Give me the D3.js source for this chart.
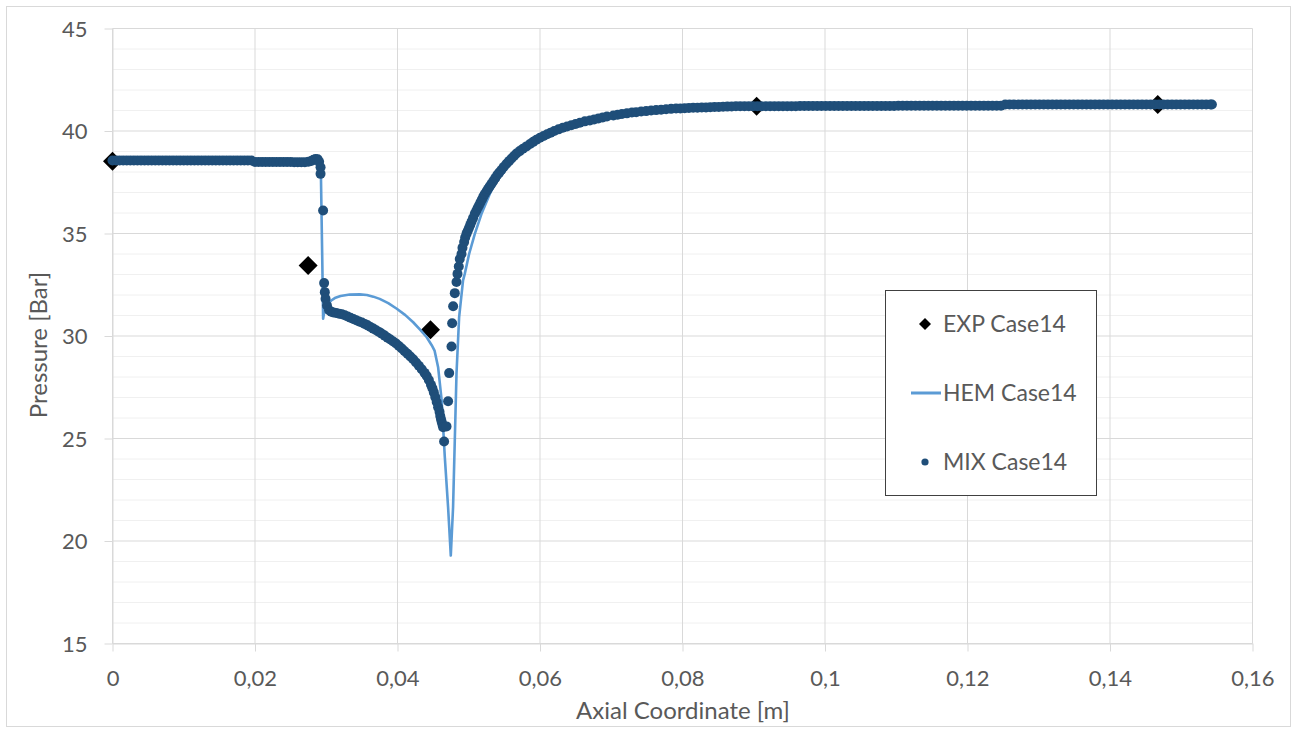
<!DOCTYPE html>
<html><head><meta charset="utf-8">
<script src="https://cdn.jsdelivr.net/npm/d3@7"></script>
<style>
html,body{margin:0;padding:0;background:#fff;}
svg{display:block;font-family:Lato,"Open Sans",sans-serif;}
</style></head>
<body><svg id="c" width="1297" height="729"></svg>
<script>
// ---------- data ----------
const xTicks=[0,0.02,0.04,0.06,0.08,0.1,0.12,0.14,0.16];
const xTickLabels=["0","0,02","0,04","0,06","0,08","0,1","0,12","0,14","0,16"];
const yTicks=[15,20,25,30,35,40,45];
const yTickLabels=["15","20","25","30","35","40","45"];
const yMinorTicks=[16,17,18,19,21,22,23,24,26,27,28,29,31,32,33,34,36,37,38,39,41,42,43,44];
const seriesNames=["EXP Case14","HEM Case14","MIX Case14"];

const expData=[[0,38.53],[0.02746,33.44],[0.04463,30.30],[0.0904,41.21],[0.1467,41.29]];

const hemData=[[0,38.56],[0.0195,38.56],[0.02,38.49],[0.0284,38.5],[0.0291,38.45],[0.02925,37.9],[0.02945,33.5],[0.02956,30.84],
[0.0298,31.35],[0.0303,31.6],[0.0307,31.73],[0.0312,31.85],[0.0320,31.95],[0.0333,32.02],[0.0347,32.03],[0.0357,32.0],[0.0366,31.92],[0.0375,31.81],
[0.0387,31.6],[0.0399,31.33],[0.0411,31.02],[0.0422,30.67],[0.0432,30.3],[0.0441,29.94],[0.0448,29.55],[0.0452,29.29],[0.0457,28.48],
[0.0462,26.85],[0.04664,24.09],[0.0471,21.65],[0.04748,19.29],[0.0478,21.65],[0.04804,24.9],[0.04828,28.16],[0.04865,30.92],[0.0492,32.71],
[0.04944,33.03],[0.05005,34.0],[0.05085,34.98],[0.05179,35.96],[0.05295,36.93],[0.0540,37.7],[0.0553,38.3],[0.0567,38.86],[0.0600,39.65],
[0.0632,40.14],[0.0670,40.5],[0.0735,40.9],[0.0801,41.1],[0.0871,41.2],[0.1,41.22],[0.125,41.24],[0.1255,41.29],[0.1543,41.29]];

const mixFlat=[[0,38.56],[0.0005,38.56],[0.001,38.56],[0.0015,38.56],[0.002,38.56],[0.0025,38.56],[0.003,38.56],[0.0035,38.56],[0.004,38.56],[0.0045,38.56],
[0.005,38.56],[0.0055,38.56],[0.006,38.56],[0.0065,38.56],[0.007,38.56],[0.0075,38.56],[0.008,38.56],[0.0085,38.56],[0.009,38.56],[0.0095,38.56],
[0.01,38.56],[0.0105,38.56],[0.011,38.56],[0.0115,38.56],[0.012,38.56],[0.0125,38.56],[0.013,38.56],[0.0135,38.56],[0.014,38.56],[0.0145,38.56],
[0.015,38.56],[0.0155,38.56],[0.016,38.56],[0.0165,38.56],[0.017,38.56],[0.0175,38.56],[0.018,38.56],[0.0185,38.56],[0.019,38.56],[0.0195,38.56],
[0.02,38.49],[0.0205,38.49],[0.021,38.49],[0.0215,38.49],[0.022,38.49],[0.0225,38.49],[0.023,38.49],[0.0235,38.49],[0.024,38.49],[0.0245,38.49],
[0.025,38.49],[0.0255,38.48],[0.026,38.48],[0.0265,38.48],[0.027,38.48],[0.0275,38.5]];

const mixDrop=[[0.0279,38.54],[0.0282,38.6],[0.0285,38.63],[0.0288,38.62],[0.029,38.5],[0.0292,38.23],[0.0292,37.91],[0.02956,36.12],
[0.0297,32.58],[0.0298,32.14],[0.0299,31.82],[0.0301,31.49],[0.0304,31.26],[0.0307,31.18]];

const mixCurve=[[0.031,31.15],[0.0314,31.12],[0.0318,31.09],[0.0322,31.06],[0.0326,31.01],[0.033,30.95],[0.0334,30.89],[0.0338,30.83],
[0.0342,30.77],[0.0346,30.71],[0.035,30.66],[0.0354,30.59],[0.0358,30.52],[0.0362,30.44],[0.0366,30.36],[0.037,30.28],[0.0374,30.2],
[0.0378,30.11],[0.0382,30.02],[0.0386,29.92],[0.039,29.83],[0.0394,29.73],[0.0398,29.63],[0.0402,29.51],[0.0406,29.39],[0.041,29.26],
[0.0414,29.13],[0.0418,29.0],[0.0422,28.87],[0.0426,28.71],[0.043,28.55],[0.0434,28.38],[0.0438,28.2],[0.0441,28.05],[0.0444,27.85],
[0.0447,27.62],[0.0449,27.45],[0.0451,27.25],[0.0453,27.02],[0.0455,26.78],[0.0457,26.53],[0.0459,26.3],[0.046,26.1],[0.0461,25.95],
[0.0462,25.82],[0.0463,25.68],[0.0464,25.55],[0.04654,24.85],[0.04688,25.59]];

const mixRise=[[0.0471,26.82],[0.04725,28.19],[0.04758,29.49],[0.04767,30.62],[0.04781,31.45],[0.04804,32.09],[0.04828,32.63],[0.04842,33.03],
[0.0486,33.39],[0.04874,33.76],[0.04898,34.0],[0.04912,34.3],[0.04935,34.58],[0.0495,34.8],[0.04968,34.98],[0.04985,35.12],[0.05003,35.27],
[0.05021,35.42],[0.0504,35.58],[0.0506,35.75],[0.05085,35.96],[0.05105,36.1],[0.05125,36.24],[0.05145,36.38],[0.05165,36.52],[0.05185,36.66],
[0.05205,36.8],[0.05225,36.93],[0.0525,37.06],[0.05272,37.18],[0.05295,37.3],[0.0532,37.43],[0.05345,37.56],[0.05372,37.7],[0.054,37.85],
[0.05428,37.97],[0.05458,38.1],[0.0549,38.24],[0.0553,38.4],[0.05565,38.53],[0.056,38.66],[0.05635,38.78],[0.0567,38.9],[0.05715,39.02],
[0.0576,39.13],[0.0581,39.25],[0.0586,39.37],[0.05905,39.47],[0.0595,39.57],[0.06,39.67],[0.0605,39.76],[0.061,39.84],[0.0615,39.92],
[0.062,40.0],[0.0626,40.08],[0.0632,40.16],[0.0638,40.22],[0.0644,40.28],[0.065,40.34],[0.0656,40.4],[0.0663,40.47],[0.067,40.51],
[0.0676,40.56],[0.0682,40.61],[0.0688,40.66],[0.0694,40.71],[0.0703,40.76],[0.0709,40.79],[0.0715,40.83],[0.0722,40.86],[0.0729,40.9],
[0.0735,40.92],[0.0742,40.95],[0.0749,40.97],[0.0756,41.0],[0.0763,41.02],[0.077,41.04],[0.0777,41.06],[0.0784,41.08],[0.0791,41.1]];

const mixTail=[[0.0797,41.1],[0.0803,41.11],[0.0809,41.12],[0.0815,41.13],[0.0821,41.14],[0.0827,41.15],[0.0833,41.15],[0.0839,41.16],
[0.0845,41.17],[0.0851,41.17],[0.0857,41.18],[0.0863,41.19],[0.0869,41.2],[0.0875,41.21],[0.0881,41.21],[0.0887,41.21],[0.0893,41.21],
[0.0899,41.21],[0.0905,41.21],[0.0911,41.21],[0.0917,41.21],[0.0923,41.21],[0.0929,41.21],[0.0935,41.21],[0.0941,41.21],[0.0947,41.21],
[0.0953,41.21],[0.0959,41.21],[0.0965,41.22],[0.0971,41.22],[0.0977,41.22],[0.0983,41.22],[0.0989,41.22],[0.0995,41.22],[0.1001,41.22],
[0.1007,41.22],[0.1013,41.22],[0.1019,41.22],[0.1025,41.22],[0.1031,41.22],[0.1037,41.22],[0.1043,41.22],[0.1049,41.22],[0.1055,41.22],
[0.1061,41.22],[0.1067,41.22],[0.1073,41.22],[0.1079,41.22],[0.1085,41.22],[0.1091,41.22],[0.1097,41.22],[0.1103,41.23],[0.1109,41.23],
[0.1115,41.23],[0.1121,41.23],[0.1127,41.23],[0.1133,41.23],[0.1139,41.23],[0.1145,41.23],[0.1151,41.23],[0.1157,41.23],[0.1163,41.23],
[0.1169,41.23],[0.1175,41.23],[0.1181,41.23],[0.1187,41.23],[0.1193,41.23],[0.1199,41.23],[0.1205,41.23],[0.1211,41.23],[0.1217,41.23],
[0.1223,41.23],[0.1229,41.23],[0.1235,41.23],[0.1241,41.23],[0.1247,41.23],[0.1253,41.29],[0.1259,41.29],[0.1265,41.29],[0.1271,41.29],
[0.1277,41.29],[0.1283,41.29],[0.1289,41.29],[0.1295,41.29],[0.1301,41.29],[0.1307,41.29],[0.1313,41.29],[0.1319,41.29],[0.1325,41.29],
[0.1331,41.29],[0.1337,41.29],[0.1343,41.29],[0.1349,41.29],[0.1355,41.29],[0.1361,41.29],[0.1367,41.29],[0.1373,41.29],[0.1379,41.29],
[0.1385,41.29],[0.1391,41.29],[0.1397,41.29],[0.1403,41.29],[0.1409,41.29],[0.1415,41.29],[0.1421,41.29],[0.1427,41.29],[0.1433,41.29],
[0.1439,41.29],[0.1445,41.29],[0.1451,41.29],[0.1457,41.29],[0.1463,41.29],[0.1469,41.29],[0.1475,41.29],[0.1481,41.29],[0.1487,41.29],
[0.1493,41.29],[0.1499,41.29],[0.1505,41.29],[0.1511,41.29],[0.1517,41.29],[0.1523,41.29],[0.1529,41.29],[0.1535,41.29],[0.1541,41.29],[0.1543,41.29]];

// ---------- drawing ----------
const svg=d3.select("#c");
const x=d3.scaleLinear().domain([0,0.16]).range([112.5,1252.5]);
const y=d3.scaleLinear().domain([15,45]).range([643.5,28.5]);
const textCol="#595959", gridMajor="#d9d9d9", gridMinor="#f0f0f0";
const cExp="#000000", cHem="#5b9bd5", cMix="#1f4e79";

svg.append("rect").attr("x",6.5).attr("y",6.5).attr("width",1284).attr("height",720)
  .attr("fill","#fff").attr("stroke","#d9d9d9").attr("stroke-width",1);

// minor gridlines
svg.append("g").selectAll("line").data(yMinorTicks).join("line")
  .attr("x1",x(0)).attr("x2",x(0.16)).attr("y1",d=>y(d)).attr("y2",d=>y(d))
  .attr("stroke",gridMinor).attr("stroke-width",1);
// major gridlines
svg.append("g").selectAll("line").data(yTicks).join("line")
  .attr("x1",x(0)).attr("x2",x(0.16)).attr("y1",d=>y(d)).attr("y2",d=>y(d))
  .attr("stroke",gridMajor).attr("stroke-width",1);
svg.append("g").selectAll("line").data(xTicks).join("line")
  .attr("x1",d=>x(d)).attr("x2",d=>x(d)).attr("y1",y(15)).attr("y2",y(45))
  .attr("stroke",gridMajor).attr("stroke-width",1);

// axes
const xAxis=svg.append("g").attr("transform",`translate(0,${y(15)})`)
  .call(d3.axisBottom(x).tickValues(xTicks).tickFormat((d,i)=>xTickLabels[i]).tickSize(8).tickSizeOuter(0).tickPadding(20));
const yAxis=svg.append("g").attr("transform",`translate(${x(0)},0)`)
  .call(d3.axisLeft(y).tickValues(yTicks).tickFormat((d,i)=>yTickLabels[i]).tickSize(8).tickSizeOuter(0).tickPadding(17));
[xAxis,yAxis].forEach(a=>{
  a.select(".domain").attr("stroke",gridMajor);
  a.selectAll(".tick line").attr("stroke",gridMajor);
  a.selectAll(".tick text").attr("fill",textCol).attr("font-size",22).attr("font-family","Lato");
});
xAxis.selectAll(".tick text").attr("dy",0).attr("y",42);
yAxis.selectAll(".tick text").attr("dy","0.36em");

// axis titles
svg.append("text").attr("x",683).attr("y",719).attr("text-anchor","middle")
  .attr("fill",textCol).attr("font-size",24).text("Axial Coordinate [m]");
svg.append("text").attr("transform","translate(47,345) rotate(-90)").attr("text-anchor","middle")
  .attr("fill",textCol).attr("font-size",24).text("Pressure [Bar]");

// clip
svg.append("clipPath").attr("id","pa").append("rect").attr("x",6).attr("y",6).attr("width",1285).attr("height",720);
const plot=svg.append("g").attr("clip-path","url(#pa)");

const diamond=(cx,cy,r)=>`M${cx},${cy-r}L${cx+r},${cy}L${cx},${cy+r}L${cx-r},${cy}Z`;

// EXP
plot.append("g").selectAll("path").data(expData).join("path")
  .attr("d",d=>diamond(x(d[0]),y(d[1]),9.5)).attr("fill",cExp);

// HEM
plot.append("path").datum(hemData)
  .attr("d",d3.line().x(d=>x(d[0])).y(d=>y(d[1])).curve(d3.curveLinear))
  .attr("fill","none").attr("stroke",cHem).attr("stroke-width",2.6).attr("stroke-linejoin","round");

// MIX
const mixAll=[].concat(mixFlat,mixDrop,mixCurve,mixRise,mixTail);
plot.append("g").selectAll("circle").data(mixAll).join("circle")
  .attr("cx",d=>x(d[0])).attr("cy",d=>y(d[1])).attr("r",5).attr("fill",cMix);

// legend
const lg=svg.append("g");
lg.append("rect").attr("x",885.5).attr("y",290.5).attr("width",211).attr("height",205)
  .attr("fill","#fff").attr("stroke","#404040").attr("stroke-width",1);
const lx=925, ly=[324,393,462];
lg.append("path").attr("d",diamond(lx,ly[0],6)).attr("fill",cExp);
lg.append("line").attr("x1",911).attr("x2",941).attr("y1",ly[1]).attr("y2",ly[1]).attr("stroke",cHem).attr("stroke-width",3);
lg.append("circle").attr("cx",lx).attr("cy",ly[2]).attr("r",3.6).attr("fill",cMix);
lg.selectAll("text").data(seriesNames).join("text")
  .attr("x",943).attr("y",(d,i)=>ly[i]+8).attr("fill",textCol).attr("font-size",23).text(d=>d);
</script></body></html>
